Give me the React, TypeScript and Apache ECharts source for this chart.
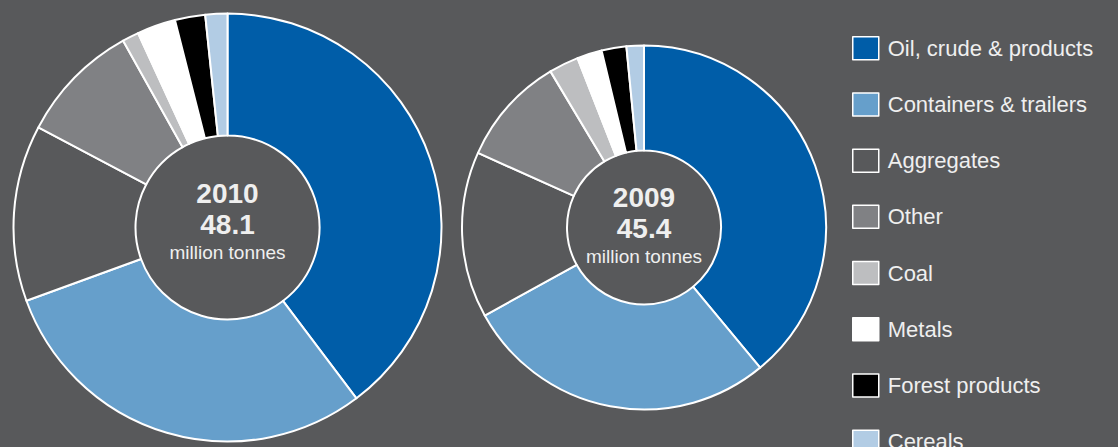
import React, { useEffect, useRef } from "react";
import * as echarts from "echarts";

const categories = [
  "Oil, crude & products",
  "Containers & trailers",
  "Aggregates",
  "Other",
  "Coal",
  "Metals",
  "Forest products",
  "Cereals",
];
const colors = ["#005da8", "#669fcb", "#58595b", "#808184", "#bdbec0", "#ffffff", "#000000", "#b2cce4"];
const values2010 = [19.1, 14.3, 6.4, 4.4, 0.6, 1.4, 1.1, 0.8];
const values2009 = [17.7, 12.7, 6.7, 4.4, 1.2, 1.0, 1.0, 0.7];
const totals = { y2010: "48.1", y2009: "45.4" };

const BG = "#58595b";
const TXT = "#efefef";
const FONT = "'Liberation Sans', Arial, Helvetica, sans-serif";

export default function App() {
  const ref = useRef<HTMLDivElement>(null);
  useEffect(() => {
    document.body.style.margin = "0";
    const chart = echarts.init(ref.current!, null, { renderer: "svg" });
    const mk = (vals: number[]) =>
      categories.map((n, i) => ({ name: n, value: vals[i], itemStyle: { color: colors[i] } }));
    const pieBase = {
      type: "pie",
      startAngle: 90,
      clockwise: true,
      label: { show: false },
      labelLine: { show: false },
      emphasis: { disabled: true },
      itemStyle: { borderColor: "#ffffff", borderWidth: 2 },
    };
    const centerText = (cx: number, cy: number, year: string, total: string) => [
      {
        type: "text",
        x: cx,
        y: cy - 34,
        style: { text: year, fill: TXT, font: `bold 28px ${FONT}`, textAlign: "center", textVerticalAlign: "middle" },
      },
      {
        type: "text",
        x: cx,
        y: cy - 3,
        style: { text: total, fill: TXT, font: `bold 28px ${FONT}`, textAlign: "center", textVerticalAlign: "middle" },
      },
      {
        type: "text",
        x: cx,
        y: cy + 25,
        style: { text: "million tonnes", fill: TXT, font: `19px ${FONT}`, textAlign: "center", textVerticalAlign: "middle" },
      },
    ];
    chart.setOption({
      animation: false,
      backgroundColor: BG,
      legend: {
        orient: "vertical",
        left: 852,
        top: 36,
        height: 520,
        padding: 0,
        itemWidth: 26,
        itemHeight: 23,
        itemGap: 31.7,
        icon: "rect",
        data: categories,
        selectedMode: false,
        itemStyle: { borderColor: "#ffffff", borderWidth: 1.5 },
        textStyle: { color: TXT, fontSize: 22, fontFamily: FONT, lineHeight: 23, padding: [0, 0, 0, 4] },
      },
      graphic: [...centerText(227.5, 227, "2010", totals.y2010), ...centerText(644, 231, "2009", totals.y2009)],
      series: [
        { ...pieBase, name: "2010", center: [227.5, 227.5], radius: [92, 214], data: mk(values2010) },
        { ...pieBase, name: "2009", center: [644, 227.5], radius: [77, 182], data: mk(values2009) },
      ],
    });
    return () => chart.dispose();
  }, []);
  return <div ref={ref} style={{ width: 1118, height: 447 }} />;
}
